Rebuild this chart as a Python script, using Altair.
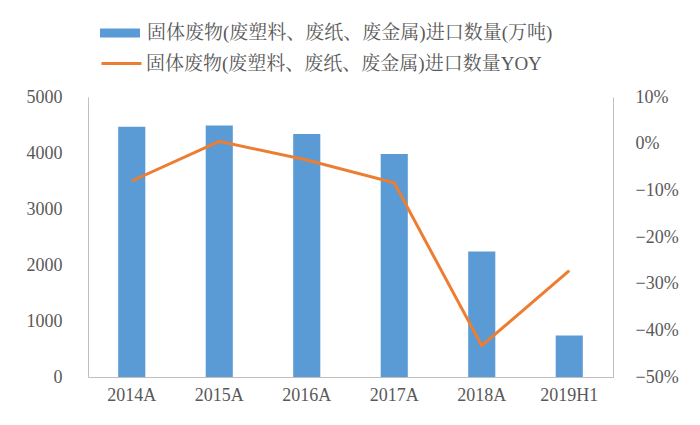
import altair as alt
import pandas as pd

years = ["2014A", "2015A", "2016A", "2017A", "2018A", "2019H1"]
volume = [4470, 4490, 4340, 3980, 2240, 740]
yoy = [-0.080, 0.005, -0.035, -0.084, -0.433, -0.272]

name_bar = "固体废物(废塑料、废纸、废金属)进口数量(万吨)"
name_line = "固体废物(废塑料、废纸、废金属)进口数量YOY"

df = pd.DataFrame({"year": years, "volume": volume, "yoy": yoy,
                   "s1": name_bar, "s2": name_line})

FONT = "'Liberation Serif', 'Noto Serif CJK SC', 'Noto Sans CJK SC', serif"
AX = "#595959"
DOM = "#BFBFBF"

x = alt.X("year:N", sort=years, title=None,
          scale=alt.Scale(paddingInner=0.69, paddingOuter=0.345),
          axis=alt.Axis(labelAngle=0, ticks=False, domainColor=DOM,
                        labelFontSize=18, labelColor=AX, labelPadding=9,
                        labelFont=FONT))

bars = alt.Chart(df).mark_bar(color="#5B9BD5").encode(
    x=x,
    y=alt.Y("volume:Q", title=None,
            scale=alt.Scale(domain=[0, 5000], nice=False),
            axis=alt.Axis(values=[0, 1000, 2000, 3000, 4000, 5000], grid=False,
                          format="d", ticks=False, domainColor=DOM,
                          labelFontSize=18, labelColor=AX, labelPadding=26,
                          labelFont=FONT)),
    color=alt.Color("s1:N", title=None,
                    scale=alt.Scale(domain=[name_bar], range=["#5B9BD5"]),
                    legend=alt.Legend(orient="none", legendX=12, legendY=-84,
                                      symbolType="M-1,-0.22L1,-0.22L1,0.22L-1,0.22Z",
                                      symbolSize=1600, labelFontSize=19,
                                      labelColor=AX, labelFont=FONT, labelLimit=700,
                                      labelOffset=7, symbolStrokeWidth=0)),
)

line = alt.Chart(df).mark_line(color="#ED7D31", strokeWidth=3).encode(
    x=x,
    y=alt.Y("yoy:Q", title=None,
            scale=alt.Scale(domain=[-0.5, 0.1], nice=False),
            axis=alt.Axis(orient="right", format=".0%",
                          values=[-0.5, -0.4, -0.3, -0.2, -0.1, 0, 0.1],
                          grid=False, ticks=False, domainColor=DOM,
                          labelFontSize=18, labelColor=AX, labelPadding=22,
                          labelFont=FONT)),
    color=alt.Color("s2:N", title=None,
                    scale=alt.Scale(domain=[name_line], range=["#ED7D31"]),
                    legend=alt.Legend(orient="none", legendX=12, legendY=-55,
                                      symbolType="stroke", symbolSize=1600,
                                      symbolStrokeWidth=3, labelFontSize=19,
                                      labelColor=AX, labelFont=FONT, labelLimit=700,
                                      labelOffset=3)),
)

chart = alt.layer(bars, line).resolve_scale(
    y="independent", color="independent"
).properties(
    width=525, height=280,
    autosize=alt.AutoSizeParams(type="none"),
    padding={"left": 80, "top": 89, "right": 79, "bottom": 40},
    background="white",
).configure_view(stroke=None)

chart.save("out.html", embed_options={"renderer": "svg", "actions": False})
